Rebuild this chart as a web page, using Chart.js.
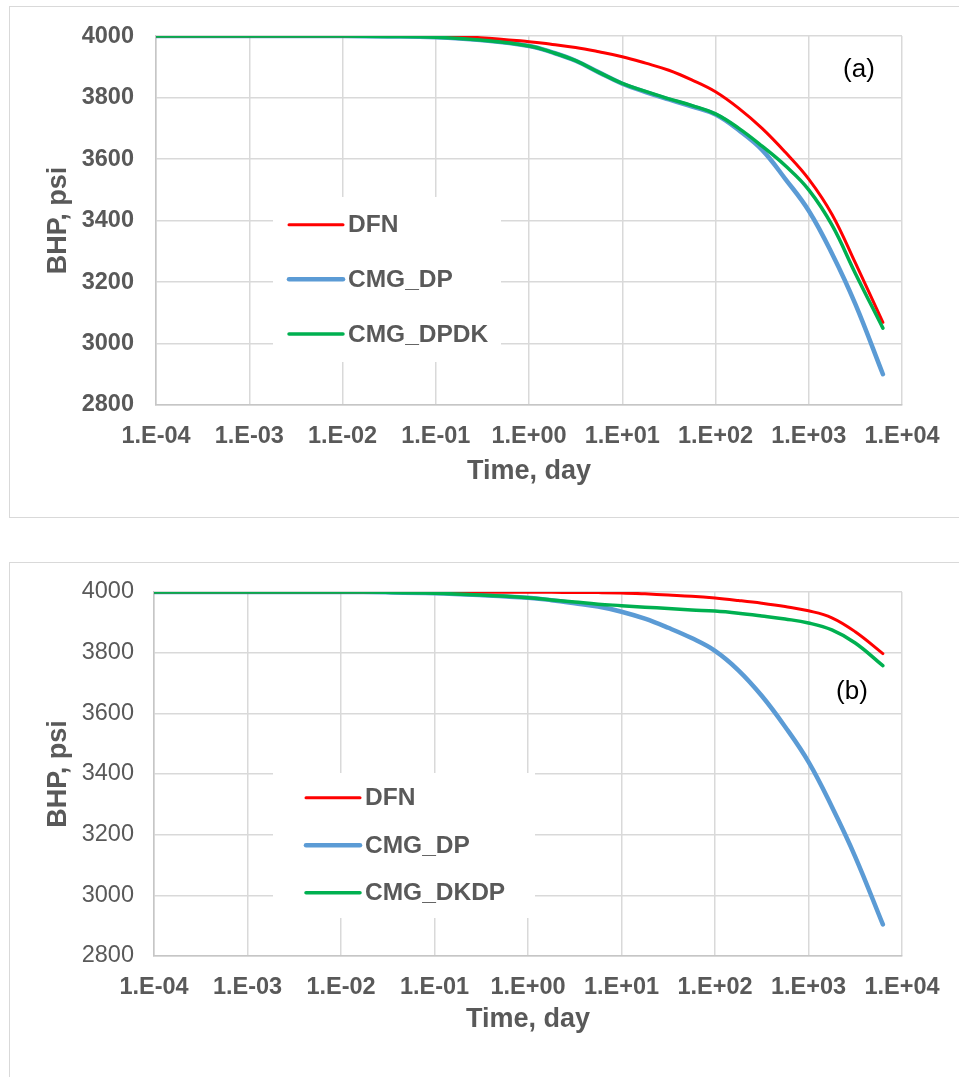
<!DOCTYPE html>
<html>
<head>
<meta charset="utf-8">
<script src="https://cdn.jsdelivr.net/npm/chart.js@4.4.0/dist/chart.umd.min.js"></script>
<style>
  body { margin: 0; background: #fff; width: 959px; height: 1077px; overflow: hidden; position: relative; }
  .frame { position: absolute; left: 9px; width: 1000px; border: 1px solid #d9d9d9; }
  canvas { position: absolute; left: 0; }
</style>
</head>
<body>
<div class="frame" style="top:6px;height:510px"></div>
<div class="frame" style="top:562px;height:600px"></div>
<canvas id="chartA" width="959" height="530" style="top:0"></canvas>
<canvas id="chartB" width="959" height="537" style="top:540px"></canvas>
<script>
// x ticks (decades) and their labels
const tickValues = [1e-4, 1e-3, 1e-2, 1e-1, 1e0, 1e1, 1e2, 1e3, 1e4];
const tickLabels = ['1.E-04', '1.E-03', '1.E-02', '1.E-01', '1.E+00', '1.E+01', '1.E+02', '1.E+03', '1.E+04'];

// (a) time, day and BHP, psi
const timeA = [1e-4, 1e-3, 1e-2, 0.03, 0.1, 0.3, 1, 1.78, 3.16, 5.62, 10, 17.8, 31.6, 56.2, 100, 178, 316, 562, 1000, 1778, 3162, 6240];
const dfnA  = [4000, 4000, 4000, 4000, 3999, 3995, 3982, 3973, 3963, 3949, 3933, 3912, 3889, 3857, 3819, 3765, 3700, 3622, 3535, 3420, 3262, 3069];
const dpA   = [4000, 4000, 4000, 3999, 3996, 3987, 3968, 3947, 3920, 3882, 3845, 3818, 3794, 3771, 3745, 3694, 3630, 3535, 3432, 3292, 3128, 2900];
const dpdkA = [4000, 4000, 4000, 3999, 3996, 3987, 3968, 3947, 3920, 3882, 3846, 3820, 3796, 3774, 3747, 3700, 3642, 3578, 3500, 3385, 3228, 3050];

// (b)
const timeB = [1e-4, 1e-3, 1e-2, 0.03, 0.1, 0.3, 1, 1.78, 3.16, 5.62, 10, 17.8, 31.6, 56.2, 100, 178, 316, 562, 1000, 1778, 3162, 6240];
const dfnB  = [4000, 4000, 4000, 4000, 4000, 4000, 3999, 3999, 3998, 3998, 3997, 3994, 3990, 3986, 3980, 3972, 3963, 3952, 3938, 3915, 3869, 3797];
const dpB   = [4000, 4000, 4000, 3999, 3996, 3990, 3981, 3973, 3963, 3952, 3935, 3912, 3882, 3848, 3806, 3742, 3658, 3556, 3440, 3292, 3127, 2904];
const dkdpB = [4000, 4000, 4000, 3999, 3996, 3990, 3981, 3974, 3967, 3960, 3955, 3950, 3946, 3941, 3937, 3930, 3921, 3911, 3898, 3875, 3832, 3757];

const FONT = "'Liberation Sans', Arial, sans-serif";
const TXT = '#595959';

function pts(t, v) {
  return t.map((x, i) => ({ x: x, y: v[i] }));
}

function series(label, t, v, color, width, order) {
  return {
    label: label,
    data: pts(t, v),
    borderColor: color,
    backgroundColor: color,
    borderWidth: width,
    pointRadius: 0,
    tension: 0.4,
    borderCapStyle: 'round',
    order: order
  };
}

// legend box + panel tag
const overlay = {
  id: 'overlay',
  beforeDatasetsDraw(chart, args, o) {
    const ctx = chart.ctx;
    ctx.save();
    ctx.fillStyle = '#fff';
    ctx.fillRect(o.box[0], o.box[1], o.box[2] - o.box[0], o.box[3] - o.box[1]);
    chart.data.datasets.forEach((ds, i) => {
      const y = o.rows[i];
      ctx.strokeStyle = ds.borderColor;
      ctx.lineWidth = ds.borderWidth;
      ctx.lineCap = 'round';
      ctx.beginPath();
      ctx.moveTo(o.line[0], y);
      ctx.lineTo(o.line[1], y);
      ctx.stroke();
      ctx.fillStyle = TXT;
      ctx.font = 'bold 24.5px ' + FONT;
      ctx.textAlign = 'left';
      ctx.textBaseline = 'middle';
      ctx.fillText(ds.label, o.line[1] + 5, y + 1);
    });
    ctx.restore();
  },
  afterDatasetsDraw(chart, args, o) {
    const ctx = chart.ctx;
    ctx.save();
    ctx.fillStyle = '#000';
    ctx.font = '26px ' + FONT;
    ctx.textAlign = 'center';
    ctx.textBaseline = 'middle';
    ctx.fillText(o.tag, o.tagPos[0], o.tagPos[1]);
    ctx.restore();
  }
};

function makeChart(id, datasets, g) {
  return new Chart(document.getElementById(id), {
    type: 'line',
    data: { datasets: datasets },
    plugins: [overlay],
    options: {
      responsive: false,
      animation: false,
      devicePixelRatio: 1,
      layout: { padding: { top: g.top, right: 57, left: 0, bottom: 0 } },
      plugins: {
        legend: { display: false },
        tooltip: { enabled: false },
        overlay: g.overlay
      },
      scales: {
        x: {
          type: 'logarithmic',
          min: 1e-4,
          max: 1e4,
          afterBuildTicks: (s) => { s.ticks = tickValues.map(v => ({ value: v })); },
          afterFit: (s) => { s.height = g.xh; },
          grid: { color: '#d9d9d9', lineWidth: 1.5, drawTicks: false },
          border: { color: '#c6c6c6', width: 1.5 },
          ticks: {
            autoSkip: false,
            maxRotation: 0,
            padding: 17,
            color: TXT,
            font: { family: FONT, size: 23.5, weight: 'bold' },
            callback: (v, i) => tickLabels[i]
          },
          title: {
            display: true,
            text: 'Time, day',
            color: TXT,
            font: { family: FONT, size: 27, weight: 'bold' },
            padding: { top: 0, bottom: g.xtPad }
          }
        },
        y: {
          min: 2800,
          max: 4000,
          afterFit: (s) => { s.width = g.yw; },
          grid: { color: '#d9d9d9', lineWidth: 1.5, drawTicks: false },
          border: { color: '#c6c6c6', width: 1.5 },
          ticks: {
            stepSize: 200,
            padding: g.yPad,
            color: TXT,
            font: { family: FONT, size: 23.5, weight: g.yWeight },
            callback: (v) => String(v)
          },
          title: {
            display: true,
            text: 'BHP, psi',
            color: TXT,
            font: { family: FONT, size: 27, weight: 'bold' },
            padding: { top: 42, bottom: 0 }
          }
        }
      }
    }
  });
}

makeChart('chartA', [
  series('DFN', timeA, dfnA, '#ff0000', 3, 1),
  series('CMG_DP', timeA, dpA, '#5b9bd5', 4.5, 2),
  series('CMG_DPDK', timeA, dpdkA, '#00b050', 3.5, 0)
], {
  top: 35, xh: 125, yw: 156, yPad: 22, yWeight: 'bold', xtPad: 42,
  overlay: { box: [273, 197, 501, 362], line: [289, 343], rows: [224.7, 279.3, 334], tag: '(a)', tagPos: [859, 70] }
});

makeChart('chartB', [
  series('DFN', timeB, dfnB, '#ff0000', 3, 1),
  series('CMG_DP', timeB, dpB, '#5b9bd5', 4.5, 2),
  series('CMG_DKDP', timeB, dkdpB, '#00b050', 3.5, 0)
], {
  top: 52, xh: 121, yw: 154, yPad: 20, yWeight: 'normal', xtPad: 41,
  overlay: { box: [273, 233, 535, 378], line: [306, 360], rows: [257.7, 305.3, 352.7], tag: '(b)', tagPos: [852, 152] }
});
</script>
</body>
</html>
